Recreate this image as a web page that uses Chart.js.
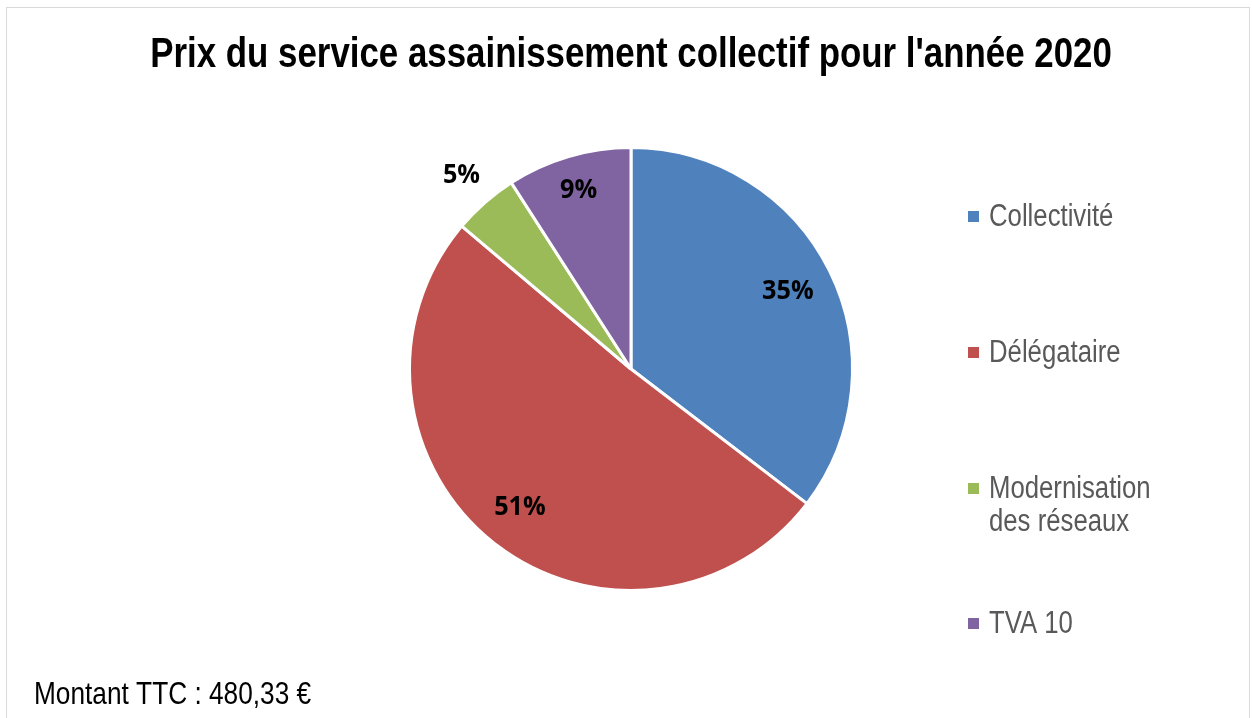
<!DOCTYPE html>
<html lang="fr">
<head>
    <meta charset="UTF-8">
    <title>Prix du service assainissement collectif 2020</title>
    <script src="https://cdn.jsdelivr.net/npm/chart.js"></script>
    <style>
        html, body { margin: 0; padding: 0; background: #fff; }
        #cadre {
            position: absolute; left: 6px; top: 7px; width: 1244px; height: 720px;
            border: 1px solid #d9d9d9; box-sizing: border-box;
        }
        #zone { position: absolute; left: 0; top: 0; width: 1252px; height: 718px; }
    </style>
</head>
<body>
    <div id="cadre"></div>
    <div id="zone"><canvas id="camembert"></canvas></div>

    <script>
        // Données (en euros)
        const postes = ['Collectivité', 'Délégataire', ['Modernisation', 'des réseaux'], 'TVA 10'];
        const montants = [170.0, 243.86, 22.8, 43.67];
        const couleurs = ['#4F81BD', '#C0504D', '#9BBB59', '#8064A2'];
        const titre = "Prix du service assainissement collectif pour l'année 2020";
        const note = 'Montant TTC : 480,33 €';

        const police = '"Liberation Sans", Arial, sans-serif';

        // texte "étroit" : on compresse horizontalement (pas d'Arial Narrow ici)
        function texteEtroit(ctx, txt, x, y, echelle) {
            ctx.save();
            ctx.translate(x, y);
            ctx.scale(echelle, 1);
            ctx.fillText(txt, 0, 0);
            ctx.restore();
        }

        // Étiquettes de pourcentage + légende + titre dessinés à la main
        const habillage = {
            id: 'habillage',
            afterDatasetsDraw(chart) {
                const ctx = chart.ctx;
                const meta = chart.getDatasetMeta(0);
                const total = montants.reduce((a, b) => a + b, 0);

                ctx.save();
                ctx.fillStyle = '#000';
                ctx.font = 'bold 26px "Open Sans", "Noto Sans", sans-serif';
                ctx.textAlign = 'center';
                ctx.textBaseline = 'middle';
                const dist = [0.79, 0.8, 1.16, 0.84];
                meta.data.forEach((arc, i) => {
                    const pct = Math.round(montants[i] / total * 100) + '%';
                    const mid = (arc.startAngle + arc.endAngle) / 2;
                    const r = arc.outerRadius * dist[i];
                    texteEtroit(ctx, pct, arc.x + Math.cos(mid) * r, arc.y + Math.sin(mid) * r, 0.97);
                });

                // titre
                ctx.font = 'bold 42px ' + police;
                texteEtroit(ctx, titre, 631, 55, 0.83);

                // légende
                ctx.textAlign = 'left';
                ctx.font = '31px ' + police;
                const ys = [217, 353, 489, 624];
                postes.forEach((p, i) => {
                    ctx.fillStyle = couleurs[i];
                    ctx.fillRect(968, ys[i] - 6, 11, 11);
                    ctx.fillStyle = '#595959';
                    const lignes = Array.isArray(p) ? p : [p];
                    lignes.forEach((l, j) => texteEtroit(ctx, l, 989, ys[i] + j * 33, 0.83));
                });

                // note en bas
                ctx.fillStyle = '#000';
                ctx.font = '32px ' + police;
                texteEtroit(ctx, note, 34, 695, 0.82);
                ctx.restore();
            }
        };

        new Chart(document.getElementById('camembert'), {
            type: 'pie',
            data: {
                labels: postes.map(p => Array.isArray(p) ? p.join(' ') : p),
                datasets: [{
                    data: montants,
                    backgroundColor: couleurs,
                    borderColor: '#ffffff',
                    borderWidth: 3
                }]
            },
            options: {
                responsive: true,
                maintainAspectRatio: false,
                animation: false,
                layout: { padding: { left: 408, right: 398, top: 146, bottom: 126 } },
                plugins: {
                    legend: { display: false },
                    title: { display: false },
                    tooltip: { enabled: false }
                }
            },
            plugins: [habillage]
        });
    </script>
</body>
</html>
